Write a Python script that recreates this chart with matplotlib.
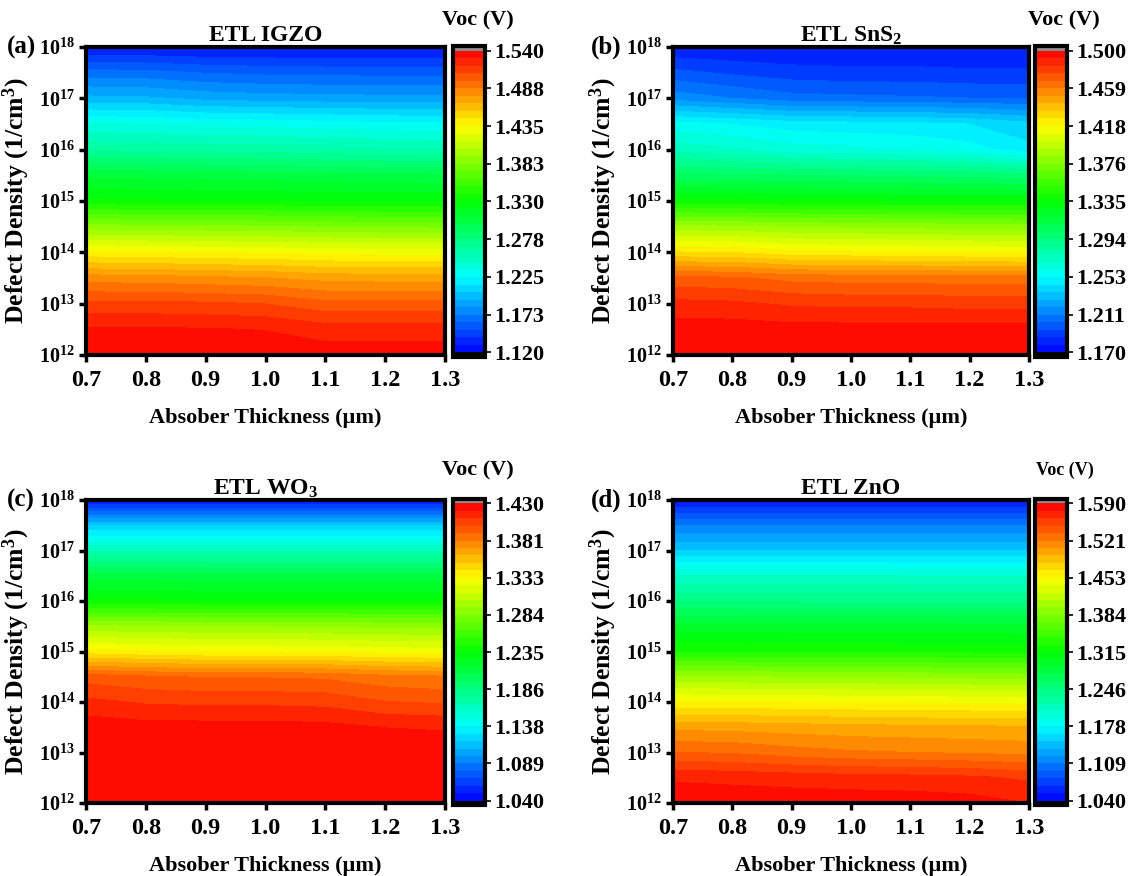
import numpy as np
import matplotlib
matplotlib.use('Agg')
import matplotlib.pyplot as plt
from matplotlib.colors import LinearSegmentedColormap

plt.rcParams['font.family'] = 'Liberation Serif'
plt.rcParams['font.weight'] = 'bold'
plt.rcParams['mathtext.fontset'] = 'custom'
plt.rcParams['mathtext.rm'] = 'Liberation Serif:bold'
plt.rcParams['mathtext.it'] = 'Liberation Serif:italic:bold'
plt.rcParams['mathtext.bf'] = 'Liberation Serif:bold'

# absorber thickness (um) and log10 of defect density (1/cm^3)
thickness = [0.7, 0.8, 0.9, 1.0, 1.1, 1.2, 1.3]
log_defect = [12.0, 12.5, 13.0, 13.5, 14.0, 14.5, 15.0, 15.5, 16.0, 16.5, 17.0, 17.5, 18.0]

# Voc (V), rows follow log_defect, columns follow thickness
voc_igzo = [
    [1.538, 1.538, 1.538, 1.537, 1.535, 1.535, 1.535],
    [1.531, 1.531, 1.530, 1.529, 1.524, 1.524, 1.524],
    [1.511, 1.511, 1.510, 1.508, 1.501, 1.501, 1.501],
    [1.482, 1.481, 1.479, 1.477, 1.473, 1.472, 1.472],
    [1.437, 1.436, 1.434, 1.433, 1.431, 1.430, 1.430],
    [1.386, 1.385, 1.384, 1.383, 1.381, 1.380, 1.379],
    [1.332, 1.331, 1.330, 1.330, 1.329, 1.328, 1.328],
    [1.306, 1.305, 1.304, 1.303, 1.302, 1.301, 1.300],
    [1.265, 1.264, 1.263, 1.262, 1.260, 1.258, 1.257],
    [1.236, 1.235, 1.232, 1.231, 1.229, 1.227, 1.226],
    [1.196, 1.195, 1.190, 1.188, 1.187, 1.186, 1.186],
    [1.166, 1.165, 1.161, 1.159, 1.158, 1.158, 1.158],
    [1.128, 1.128, 1.127, 1.127, 1.127, 1.127, 1.127],
]
voc_sns2 = [
    [1.498, 1.498, 1.498, 1.498, 1.498, 1.498, 1.498],
    [1.496, 1.496, 1.495, 1.495, 1.495, 1.495, 1.495],
    [1.486, 1.485, 1.482, 1.481, 1.481, 1.480, 1.480],
    [1.469, 1.468, 1.464, 1.463, 1.463, 1.462, 1.462],
    [1.426, 1.425, 1.420, 1.419, 1.418, 1.417, 1.416],
    [1.386, 1.385, 1.383, 1.382, 1.381, 1.380, 1.379],
    [1.336, 1.336, 1.335, 1.335, 1.334, 1.334, 1.334],
    [1.304, 1.303, 1.302, 1.301, 1.300, 1.299, 1.296],
    [1.274, 1.270, 1.264, 1.262, 1.260, 1.256, 1.247],
    [1.255, 1.252, 1.248, 1.247, 1.246, 1.244, 1.238],
    [1.216, 1.211, 1.206, 1.205, 1.204, 1.203, 1.202],
    [1.197, 1.193, 1.190, 1.189, 1.189, 1.188, 1.188],
    [1.179, 1.178, 1.178, 1.178, 1.178, 1.178, 1.178],
]
voc_wo3 = [
    [1.428, 1.428, 1.428, 1.428, 1.428, 1.428, 1.428],
    [1.428, 1.428, 1.428, 1.428, 1.428, 1.428, 1.428],
    [1.428, 1.428, 1.428, 1.428, 1.428, 1.427, 1.427],
    [1.426, 1.424, 1.424, 1.424, 1.423, 1.420, 1.419],
    [1.413, 1.409, 1.408, 1.408, 1.407, 1.401, 1.399],
    [1.396, 1.392, 1.390, 1.390, 1.389, 1.384, 1.382],
    [1.336, 1.333, 1.331, 1.331, 1.330, 1.328, 1.327],
    [1.294, 1.293, 1.292, 1.292, 1.291, 1.290, 1.289],
    [1.236, 1.236, 1.235, 1.235, 1.235, 1.235, 1.235],
    [1.210, 1.210, 1.209, 1.209, 1.209, 1.209, 1.209],
    [1.165, 1.165, 1.165, 1.165, 1.165, 1.165, 1.165],
    [1.118, 1.118, 1.118, 1.118, 1.118, 1.118, 1.118],
    [1.048, 1.048, 1.048, 1.048, 1.048, 1.048, 1.048],
]
voc_zno = [
    [1.586, 1.586, 1.585, 1.585, 1.584, 1.582, 1.576],
    [1.574, 1.572, 1.570, 1.568, 1.567, 1.565, 1.560],
    [1.535, 1.533, 1.527, 1.523, 1.521, 1.519, 1.517],
    [1.503, 1.502, 1.500, 1.498, 1.497, 1.496, 1.495],
    [1.454, 1.453, 1.452, 1.451, 1.450, 1.449, 1.448],
    [1.398, 1.397, 1.396, 1.395, 1.394, 1.392, 1.390],
    [1.326, 1.326, 1.325, 1.325, 1.324, 1.324, 1.323],
    [1.293, 1.293, 1.292, 1.292, 1.292, 1.291, 1.291],
    [1.244, 1.244, 1.244, 1.243, 1.243, 1.243, 1.243],
    [1.205, 1.205, 1.205, 1.205, 1.204, 1.204, 1.204],
    [1.150, 1.150, 1.150, 1.150, 1.150, 1.150, 1.150],
    [1.110, 1.110, 1.110, 1.110, 1.110, 1.110, 1.110],
    [1.051, 1.051, 1.051, 1.051, 1.051, 1.051, 1.051],
]

titles = ['ETL IGZO', 'ETL SnS$_2$', 'ETL WO$_3$', 'ETL ZnO']
letters = ['(a)', '(b)', '(c)', '(d)']
voc_ranges = [(1.120, 1.540), (1.170, 1.500), (1.040, 1.430), (1.040, 1.590)]
cbar_labels = [
    ['1.120', '1.173', '1.225', '1.278', '1.330', '1.383', '1.435', '1.488', '1.540'],
    ['1.170', '1.211', '1.253', '1.294', '1.335', '1.376', '1.418', '1.459', '1.500'],
    ['1.040', '1.089', '1.138', '1.186', '1.235', '1.284', '1.333', '1.381', '1.430'],
    ['1.040', '1.109', '1.178', '1.246', '1.315', '1.384', '1.453', '1.521', '1.590'],
]
x_labels = ['0.7', '0.8', '0.9', '1.0', '1.1', '1.2', '1.3']
y_ticks = [12, 13, 14, 15, 16, 17, 18]

W, H = 1131, 876
# pixel boxes: (left, right, top, bottom) for plot and colorbar
plot_boxes = [(86, 445, 47, 355), (673, 1029, 47, 355),
              (86, 445, 500, 803), (673, 1029, 500, 803)]
cbar_boxes = [(453, 485, 46, 357), (1035, 1067, 46, 357),
              (453, 485, 499, 805), (1035, 1067, 499, 805)]
voc_text_pos = [(478, 20, 16), (1064, 20, 16), (478, 470, 16), (1065, 470, 13)]
letter_pos = [(7, 47), (591, 47), (7, 500), (591, 500)]

cmap = LinearSegmentedColormap.from_list(
    'origin_rainbow', ['#0000ff', '#00ffff', '#00ff00', '#ffff00', '#ff0000'])
cmap.set_under('black')
cmap.set_over('#8c8c8c')


def rect(box):
    l, r, t, b = box
    return [l / W, 1 - b / H, (r - l) / W, (b - t) / H]


fig = plt.figure(figsize=(W / 100, H / 100), dpi=100)
panels = [voc_igzo, voc_sns2, voc_wo3, voc_zno]

for i, voc in enumerate(panels):
    vmin, vmax = voc_ranges[i]
    ax = fig.add_axes(rect(plot_boxes[i]))
    levels = np.linspace(vmin, vmax, 41)
    cs = ax.contourf(thickness, log_defect, np.array(voc), levels=levels,
                     cmap=cmap, extend='both')
    cs.set_edgecolor('face')
    cs.set_linewidth(0.4)
    ax.set_xlim(0.7, 1.3)
    ax.set_ylim(12, 18)
    ax.set_xticks(thickness)
    ax.set_xticklabels(x_labels, fontsize=17.5)
    ax.set_yticks(y_ticks)
    ax.set_yticklabels(['$10^{%d}$' % n for n in y_ticks], fontsize=14.5)
    ax.tick_params(direction='out', length=5, width=2.5, pad=3)
    ax.tick_params(axis='x', pad=6)
    for s in ax.spines.values():
        s.set_linewidth(3)
    ax.set_title(titles[i], fontsize=17, fontweight='bold', pad=4)
    ax.set_xlabel('Absober Thickness (\u00b5m)', fontsize=16, fontweight='bold', labelpad=12)
    ax.set_ylabel('Defect Density (1/cm$^3$)', fontsize=18.5, fontweight='bold', labelpad=5)

    cax = fig.add_axes(rect(cbar_boxes[i]))
    cb = fig.colorbar(cs, cax=cax, extendrect=True, extendfrac=0.015)
    cb.set_ticks(np.linspace(vmin, vmax, 9))
    cb.set_ticklabels(cbar_labels[i])
    cb.ax.tick_params(direction='out', length=4, width=1.2, labelsize=16, pad=3)
    cb.outline.set_linewidth(3)

    tx, ty, tsize = voc_text_pos[i]
    fig.text(tx / W, 1 - ty / H, 'Voc (V)', fontsize=tsize, fontweight='bold',
             ha='center', va='center')
    lx, ly = letter_pos[i]
    fig.text(lx / W, 1 - ly / H, letters[i], fontsize=18, fontweight='bold',
             ha='left', va='center')

fig.savefig('out.png', dpi=100)
